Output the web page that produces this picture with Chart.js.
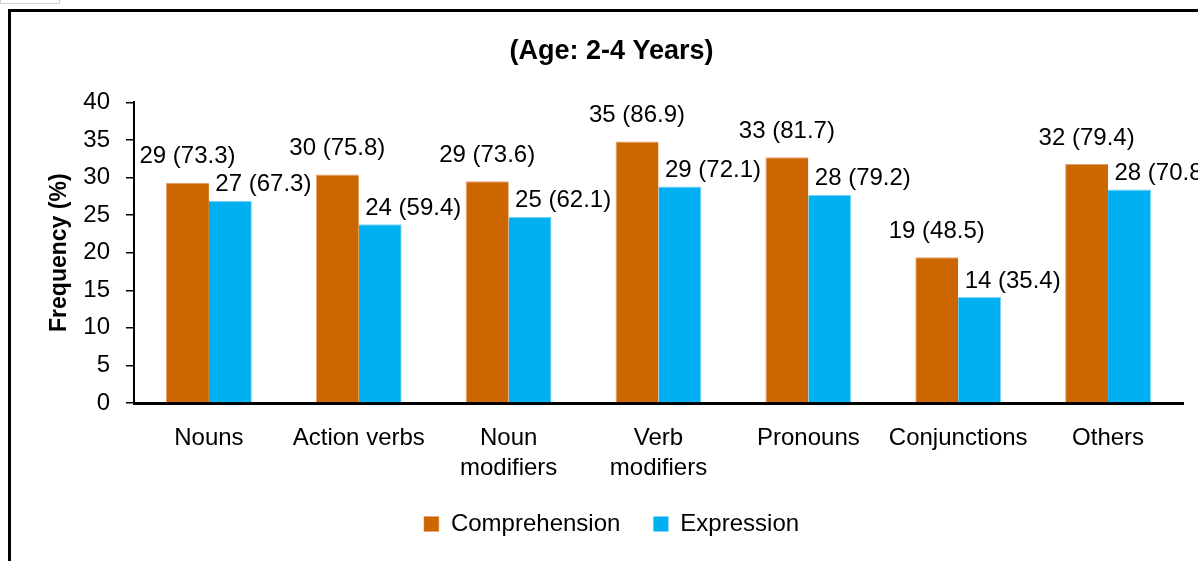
<!DOCTYPE html>
<html>
<head>
<meta charset="utf-8">
<script src="https://cdn.jsdelivr.net/npm/chart.js@4.4.1/dist/chart.umd.min.js"></script>
<style>
  html, body { margin: 0; padding: 0; background: #fff; overflow: hidden; width: 1198px; height: 561px; }
  #tab { position: absolute; left: 0; top: -2px; width: 58px; height: 5px; border: 1px solid #cfcfcf; border-top: none; }
  #frame { position: absolute; left: 8px; top: 9px; width: 1220px; height: 600px; border: 3px solid #000; box-sizing: border-box; }
  #wrap { position: absolute; left: 0; top: 0; width: 1198px; height: 561px; }
</style>
</head>
<body>
<div id="tab"></div>
<div id="frame"></div>
<div id="wrap"><canvas id="c" width="1198" height="561"></canvas></div>
<script>
const categories = ["Nouns", "Action verbs", ["Noun", "modifiers"], ["Verb", "modifiers"], "Pronouns", "Conjunctions", "Others"];
const comprehension = [29.3, 30.4, 29.5, 34.8, 32.7, 19.4, 31.8];
const expression = [26.9, 23.8, 24.8, 28.8, 27.7, 14.1, 28.4];
const comprehensionLabels = ["29 (73.3)", "30 (75.8)", "29 (73.6)", "35 (86.9)", "33 (81.7)", "19 (48.5)", "32 (79.4)"];
const expressionLabels = ["27 (67.3)", "24 (59.4)", "25 (62.1)", "29 (72.1)", "28 (79.2)", "14 (35.4)", "28 (70.8)"];
const yTicks = [0, 5, 10, 15, 20, 25, 30, 35, 40];

const FONT = "'Liberation Sans Narrow', 'Liberation Sans', Arial, sans-serif";
const labelStyle = [ { dx: 0, dy: 26 }, { dx: 33, dy: 16 } ];
const allLabels = [comprehensionLabels, expressionLabels];

const dataLabels = {
  id: 'dataLabels',
  afterDatasetsDraw(chart) {
    const ctx = chart.ctx;
    ctx.save();
    ctx.font = "24px " + FONT;
    ctx.fillStyle = "#000";
    ctx.textAlign = "center";
    ctx.textBaseline = "middle";
    chart.data.datasets.forEach((ds, di) => {
      const meta = chart.getDatasetMeta(di);
      meta.data.forEach((el, i) => {
        ctx.fillText(allLabels[di][i], el.x + labelStyle[di].dx, el.y - labelStyle[di].dy);
      });
    });
    ctx.restore();
  }
};

new Chart(document.getElementById('c'), {
  type: 'bar',
  data: {
    labels: categories,
    datasets: [
      { label: 'Comprehension', data: comprehension, backgroundColor: '#CC6600', borderColor: '#E8A070', borderWidth: {top:1,left:1,right:0,bottom:0} },
      { label: 'Expression', data: expression, backgroundColor: '#00B0F0', borderColor: '#7FD6F7', borderWidth: {top:1,right:1,left:0,bottom:0} }
    ]
  },
  options: {
    responsive: false,
    animation: false,
    events: [],
    layout: { padding: { left: 40, right: 15, top: 0, bottom: 15 } },
    datasets: { bar: { categoryPercentage: 0.573, barPercentage: 1.0 } },
    plugins: {
      title: {
        display: true,
        text: '(Age: 2-4 Years)',
        color: '#000',
        font: { family: FONT, size: 27, weight: 'bold' },
        padding: { top: 35, bottom: 35 }
      },
      legend: {
        position: 'bottom',
        labels: {
          color: '#000',
          font: { family: FONT, size: 24 },
          boxWidth: 15, boxHeight: 15,
          padding: 33
        }
      },
      tooltip: { enabled: false }
    },
    scales: {
      x: {
        grid: { display: false, drawTicks: false },
        border: { color: '#000', width: 3 },
        ticks: { color: '#000', font: { family: FONT, size: 24, lineHeight: 1.25 }, padding: 20, maxRotation: 0, autoSkip: false },
        afterFit(scale) { scale.height = 76; }
      },
      y: {
        min: 0, max: 40,
        afterBuildTicks(scale) { scale.ticks = yTicks.map(v => ({ value: v })); },
        grid: { drawOnChartArea: false, drawTicks: true, tickLength: 8, color: '#000', lineWidth: 1.5 },
        border: { color: '#000', width: 2 },
        ticks: { color: '#000', font: { family: FONT, size: 24 }, padding: 16 },
        title: { display: true, text: 'Frequency (%)', color: '#000', font: { family: FONT, size: 23, weight: 'bold' }, padding: 6 },
        afterFit(scale) { scale.width = 94; }
      }
    }
  },
  plugins: [dataLabels]
});
</script>
</body>
</html>
